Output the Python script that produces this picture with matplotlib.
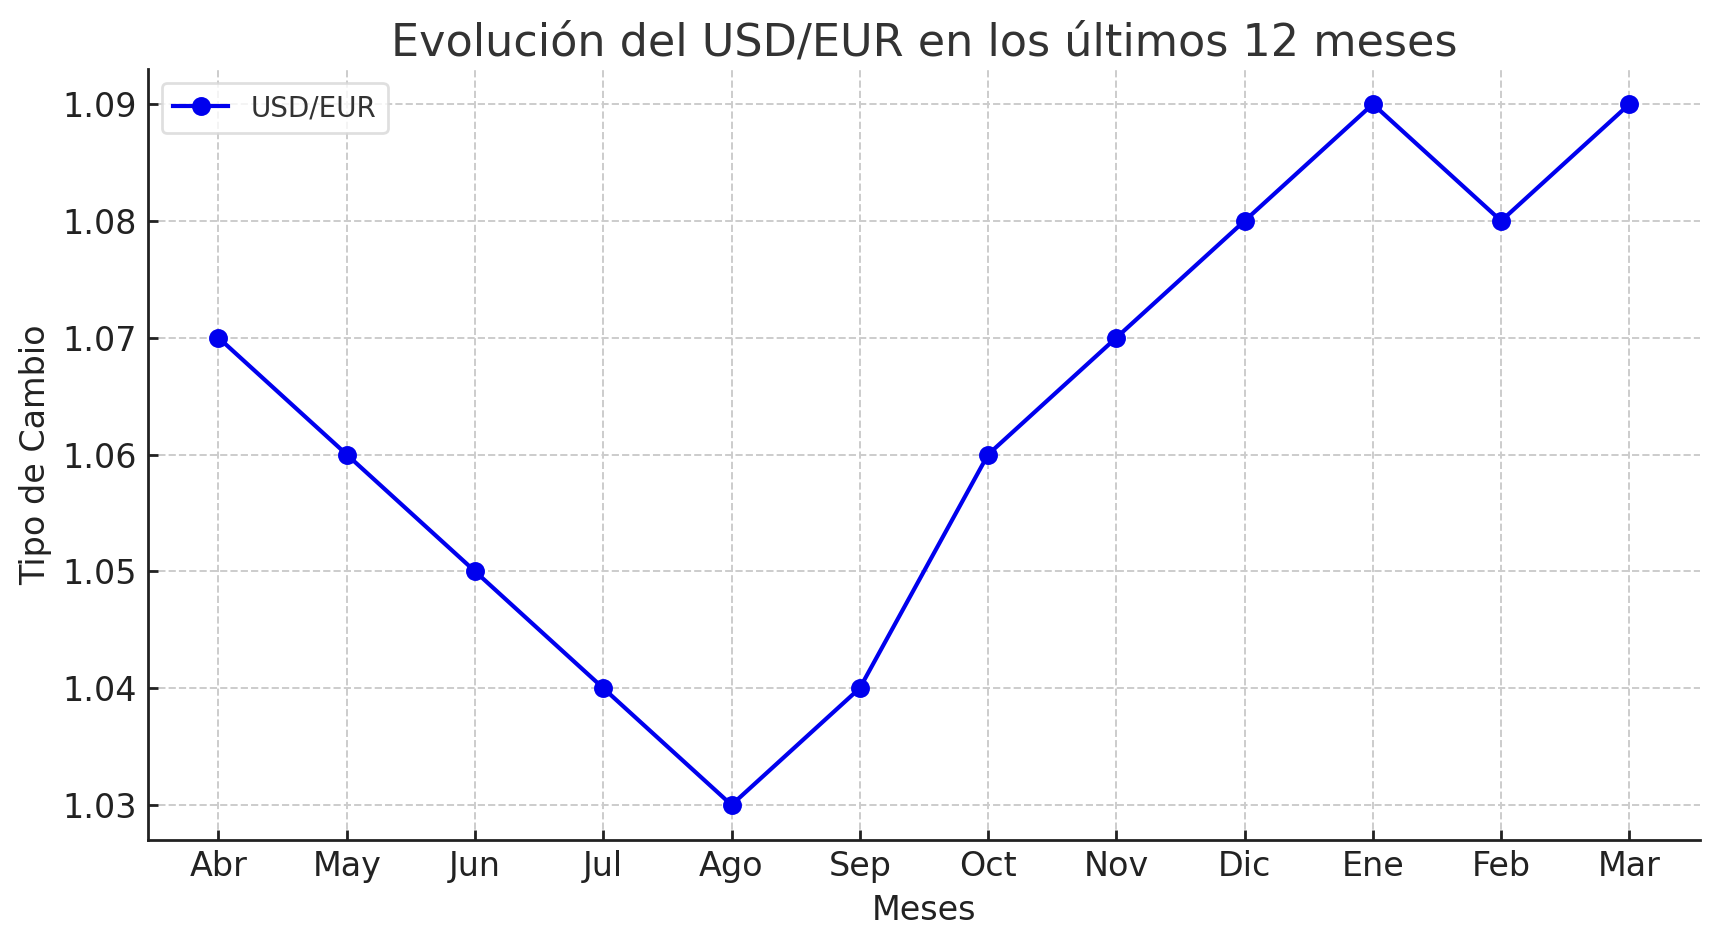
import matplotlib
matplotlib.use("Agg")
import matplotlib.pyplot as plt

months = ["Abr", "May", "Jun", "Jul", "Ago", "Sep", "Oct", "Nov", "Dic", "Ene", "Feb", "Mar"]
usd_eur = [1.07, 1.06, 1.05, 1.04, 1.03, 1.04, 1.06, 1.07, 1.08, 1.09, 1.08, 1.09]

fig = plt.figure(figsize=(8.59, 4.735), dpi=200)
ax = fig.add_axes([0.0861, 0.1130, 0.9034, 0.8141])

ax.plot(months, usd_eur, color="#0000ee", marker="o", markersize=5.8,
        linewidth=1.5, label="USD/EUR")

ax.set_title("Evolución del USD/EUR en los últimos 12 meses",
             fontsize=16, color="#333333", pad=5)
ax.set_xlabel("Meses", fontsize=12, color="#222222", labelpad=4)
ax.set_ylabel("Tipo de Cambio", fontsize=12, color="#222222", labelpad=3.5)

ax.set_yticks([1.03, 1.04, 1.05, 1.06, 1.07, 1.08, 1.09])
ax.yaxis.set_major_formatter(matplotlib.ticker.FormatStrFormatter("%.2f"))
ax.tick_params(axis="both", direction="in", labelsize=12, labelcolor="#222222",
               color="#222222", length=3.5, width=1)
ax.tick_params(axis="x", pad=3.5)
ax.tick_params(axis="y", pad=4)

ax.grid(True, linestyle="--", color="#cccccc", linewidth=0.7)
ax.set_axisbelow(True)
for side in ("top", "right"):
    ax.spines[side].set_visible(False)
for side in ("left", "bottom"):
    ax.spines[side].set_color("#222222")
    ax.spines[side].set_linewidth(1)

leg = ax.legend(loc="upper left", fontsize=10, frameon=True)
leg.get_frame().set_edgecolor("#d8d8d8")
for t in leg.get_texts():
    t.set_color("#333333")

fig.savefig("out.png", dpi=200)
